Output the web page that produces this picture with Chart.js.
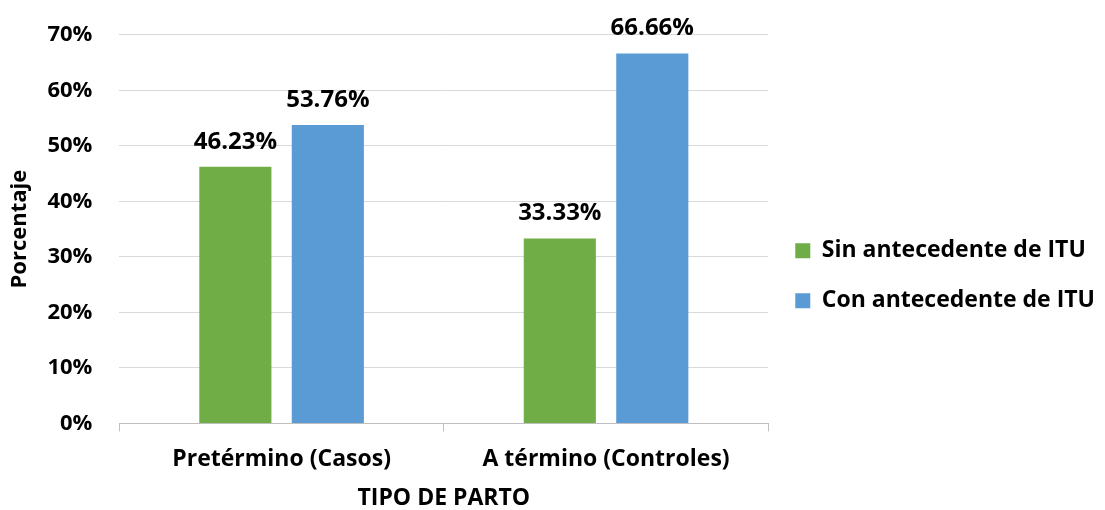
<!DOCTYPE html>
<html>
<head>
<meta charset="utf-8">
<script src="https://cdn.jsdelivr.net/npm/chart.js@4/dist/chart.umd.min.js"></script>
<style>
  html, body { margin: 0; padding: 0; background: #fff; }
  #wrap { width: 1105px; height: 510px; position: relative; }
</style>
</head>
<body>
<div id="wrap"><canvas id="barChart"></canvas></div>
<script>
/* Tipo de parto vs antecedente de ITU */

const FONT = "'Open Sans', Lato, sans-serif";
const COLOR_GREEN = "#70ad47";
const COLOR_BLUE = "#5b9bd5";

const categories = ['Pretérmino (Casos)', 'A término (Controles)'];
const seriesNames = ['Sin antecedente de ITU', 'Con antecedente de ITU'];
const sinITU = [46.23, 33.33];
const conITU = [53.76, 66.66];

// etiquetas encima de cada barra
const valueLabels = {
  id: 'valueLabels',
  afterDatasetsDraw(chart) {
    const ctx = chart.ctx;
    ctx.save();
    ctx.font = "bold 24px " + FONT;
    ctx.fillStyle = '#000';
    ctx.textAlign = 'center';
    ctx.textBaseline = 'alphabetic';
    chart.data.datasets.forEach((ds, i) => {
      chart.getDatasetMeta(i).data.forEach((bar, j) => {
        ctx.fillText(ds.data[j].toFixed(2) + '%', bar.x, bar.y - 18);
      });
    });
    ctx.restore();
  }
};

function drawChart() {
  new Chart(document.getElementById('barChart').getContext('2d'), {
    type: 'bar',
    data: {
      labels: categories,
      datasets: [
        { label: seriesNames[0], data: sinITU, backgroundColor: COLOR_GREEN },
        { label: seriesNames[1], data: conITU, backgroundColor: COLOR_BLUE }
      ]
    },
    options: {
      responsive: true,
      maintainAspectRatio: false,
      animation: false,
      categoryPercentage: 0.57,
      barPercentage: 0.78,
      layout: { padding: { top: 15, right: 0, left: 7, bottom: 0 } },
      plugins: {
        legend: {
          position: 'right',
          maxWidth: 500,
          title: { display: true, text: '', padding: 6, font: { size: 12 } },
          labels: {
            boxWidth: 15, boxHeight: 15, padding: 27,
            color: '#000',
            font: { family: FONT, size: 23, weight: 'bold' }
          }
        },
        tooltip: { enabled: false }
      },
      scales: {
        x: {
          grid: { display: true, offset: true, drawOnChartArea: false, drawTicks: true, tickLength: 8, color: '#bfbfbf' },
          border: { display: true, color: '#bfbfbf' },
          ticks: { color: '#000', padding: 14, font: { family: FONT, size: 23, weight: 'bold' } },
          title: { display: true, text: 'TIPO DE PARTO', color: '#000', padding: { top: 0, bottom: 0 },
                   font: { family: FONT, size: 23, weight: 'bold', lineHeight: 1 } }
        },
        y: {
          min: 0, max: 70,
          ticks: { stepSize: 10, color: '#000', padding: 27,
                   font: { family: FONT, size: 22, weight: 'bold', lineHeight: 0.72 },
                   callback: v => v + '%' },
          grid: { color: '#d9d9d9', drawTicks: false },
          border: { display: false },
          title: { display: true, text: 'Porcentaje', color: '#000', padding: { top: 0, bottom: -13 },
                   font: { family: FONT, size: 22, weight: 'bold' } }
        }
      }
    },
    plugins: [valueLabels]
  });
}

// esperar la fuente para que la leyenda mida bien
Promise.all([
  document.fonts.load("bold 22px 'Open Sans'"),
  document.fonts.load("bold 24px 'Open Sans'")
]).then(drawChart, drawChart);
</script>
</body>
</html>
